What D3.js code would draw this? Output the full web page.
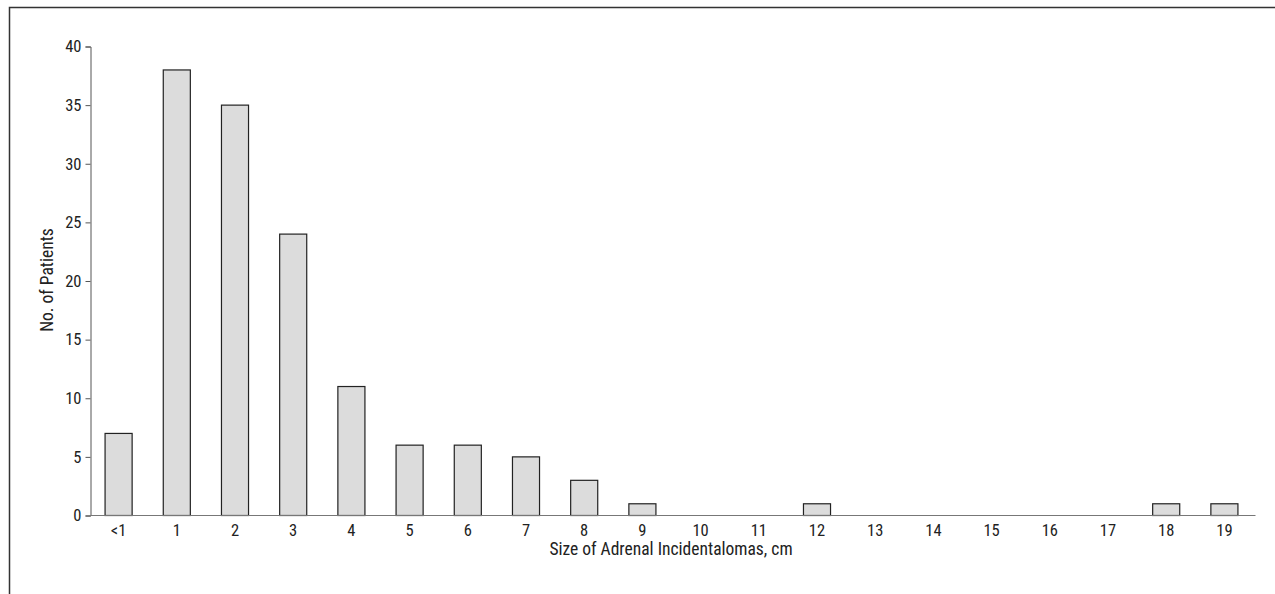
<!DOCTYPE html>
<html><head><meta charset="utf-8">
<script src="https://cdn.jsdelivr.net/npm/d3@7"></script>
<style>
html,body{margin:0;padding:0;background:#fff;}
text{font-family:"Liberation Sans Narrow","Arial Narrow","Roboto Condensed","Liberation Sans",sans-serif;fill:#222;}
</style></head>
<body>
<svg id="c" width="1275" height="594"></svg>
<script>
const categories = ["<1","1","2","3","4","5","6","7","8","9","10","11","12","13","14","15","16","17","18","19"];
const patients = [7,38,35,24,11,6,6,5,3,1,0,0,1,0,0,0,0,0,1,1];
const yTicks = [0,5,10,15,20,25,30,35,40];

const svg = d3.select("#c");
svg.append("path").attr("d","M9.5,594 L9.5,7.5 L1275,7.5").attr("fill","none").attr("stroke","#333").attr("stroke-width",1.5);

const x = d3.scaleBand().domain(categories).range([89,1253]).paddingInner(0.535).paddingOuter(0.2675);
const y = d3.scaleLinear().domain([0,40]).range([515,46]);

svg.append("g").selectAll("rect").data(patients).join("rect")
  .attr("x",(d,i)=>x(categories[i])+0.5)
  .attr("y",d=>y(d)+0.5)
  .attr("width",x.bandwidth())
  .attr("height",d=>y(0)-y(d))
  .attr("fill","#dcdcdc").attr("stroke","#222").attr("stroke-width",1.2);

const yAx = svg.append("g").attr("transform","translate(90.5,0.5)")
  .call(d3.axisLeft(y).tickValues(yTicks).tickSize(5).tickPadding(4));
yAx.select(".domain").attr("stroke","#555");
yAx.selectAll(".tick line").attr("stroke","#555");
yAx.selectAll("text").attr("font-size",16.5).style("fill","#222");

const xAx = svg.append("g").attr("transform","translate(0.5,515.5)")
  .call(d3.axisBottom(x).tickSize(0).tickPadding(9));
xAx.select(".domain").attr("d","M89.5,0H1255").attr("stroke","#777");
xAx.selectAll("text").attr("font-size",16.5).style("fill","#222");

svg.append("text").attr("x",671).attr("y",555).attr("text-anchor","middle").attr("font-size",17.5).text("Size of Adrenal Incidentalomas, cm");
svg.append("text").attr("transform","translate(53,280) rotate(-90)").attr("text-anchor","middle").attr("font-size",17.5).text("No. of Patients");
</script>
</body></html>
